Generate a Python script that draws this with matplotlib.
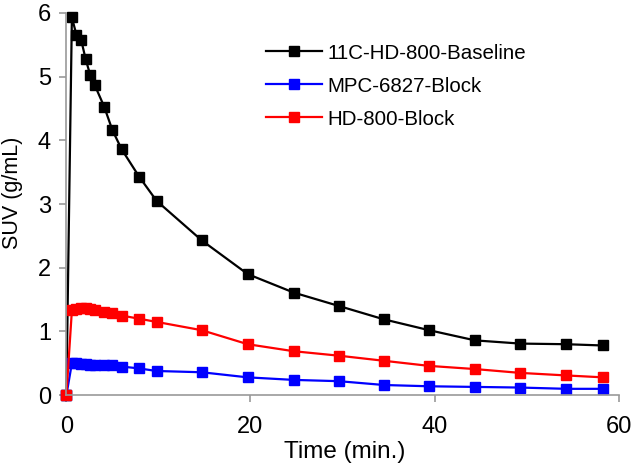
import matplotlib.pyplot as plt

plt.rcParams['font.family'] = ['Liberation Sans', 'DejaVu Sans']

# Data
time_min = [0, 0.6, 1.1, 1.6, 2.1, 2.6, 3.1, 4.1, 5.0, 6.0, 7.9, 9.8,
            14.7, 19.7, 24.7, 29.6, 34.5, 39.4, 44.4, 49.3, 54.3, 58.3]
baseline = [0, 5.93, 5.65, 5.58, 5.27, 5.02, 4.86, 4.53, 4.16, 3.86, 3.43, 3.05,
            2.43, 1.90, 1.61, 1.40, 1.19, 1.02, 0.86, 0.81, 0.80, 0.78]
mpc_block = [0, 0.50, 0.50, 0.49, 0.49, 0.48, 0.48, 0.48, 0.47, 0.45, 0.42, 0.38,
             0.36, 0.28, 0.24, 0.22, 0.16, 0.14, 0.13, 0.12, 0.10, 0.10]
hd_block = [0, 1.33, 1.35, 1.37, 1.37, 1.36, 1.34, 1.31, 1.29, 1.25, 1.20, 1.15,
            1.02, 0.80, 0.69, 0.62, 0.54, 0.46, 0.41, 0.35, 0.31, 0.28]

fig = plt.figure(figsize=(6.32, 4.75), dpi=100)
ax = fig.add_axes([0.105, 0.168, 0.874, 0.805])

ax.plot(time_min, baseline, marker='s', markersize=7.5, lw=1.6, color='black', label='11C-HD-800-Baseline', clip_on=False)
ax.plot(time_min, mpc_block, marker='s', markersize=7.5, lw=1.6, color='#0000ff', label='MPC-6827-Block', clip_on=False)
ax.plot(time_min, hd_block, marker='s', markersize=7.5, lw=1.6, color='#ff0000', label='HD-800-Block', clip_on=False)

ax.set_xlim(0, 60)
ax.set_ylim(0, 6)
ax.set_xticks([0, 20, 40, 60])
ax.set_yticks(range(7))
ax.spines['top'].set_visible(False)
ax.spines['right'].set_visible(False)
for s in ('left', 'bottom'):
    ax.spines[s].set_color('#999999')
    ax.spines[s].set_linewidth(1.2)
ax.tick_params(colors='#999999', labelcolor='black', labelsize=17, length=5, width=1.2)
ax.tick_params(axis='x', pad=10)
ax.tick_params(axis='y', pad=6)

ax.set_xlabel('Time (min.)', fontsize=17.5)
ax.set_ylabel('SUV (g/mL)', fontsize=15.5)
ax.xaxis.set_label_coords(0.5035, -0.119)
ax.yaxis.set_label_coords(-0.079, 0.529)

ax.legend(loc='upper left', bbox_to_anchor=(0.328, 0.968), frameon=False, fontsize=14.8,
          handlelength=2.7, labelspacing=0.68, handletextpad=0.3)

fig.savefig('out.png', dpi=100)
